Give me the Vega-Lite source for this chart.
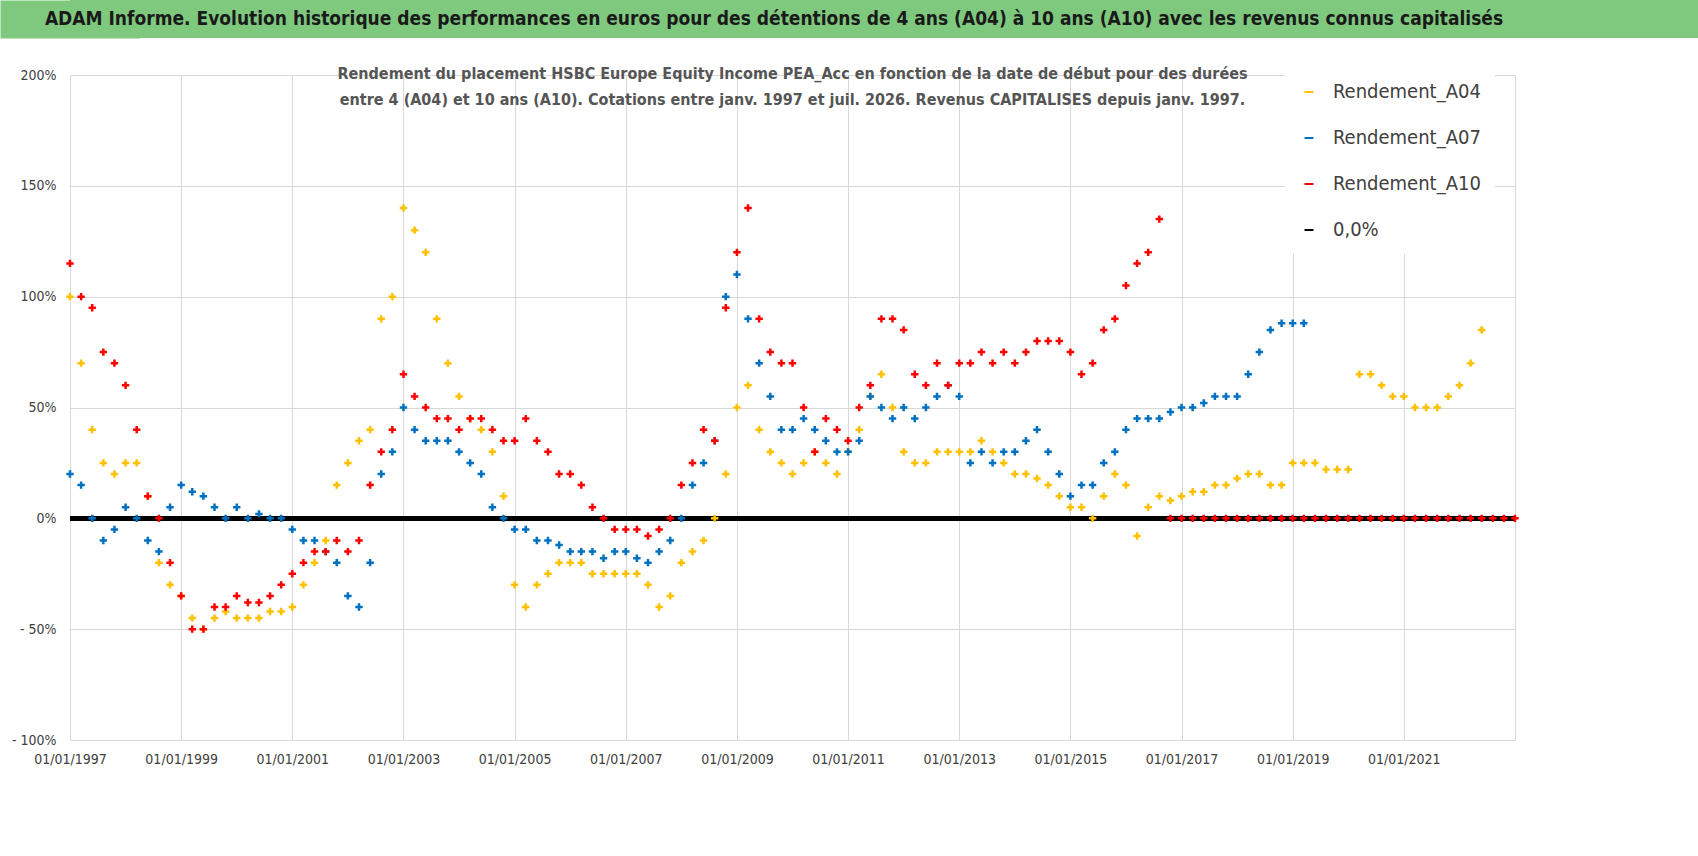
{
  "$schema": "https://vega.github.io/schema/vega-lite/v6.json",
  "padding": 0,
  "spacing": 37,
  "bounds": "flush",
  "background": "white",
  "config": {"view": {"stroke": null}, "font": "DejaVu Sans Condensed, Liberation Sans Narrow, Roboto, sans-serif"},
  "datasets": {
    "perf": [
      {"t":1997.0,"a":100,"b":20,"c":115},{"t":1997.2,"a":70,"b":15,"c":100},{"t":1997.4,"a":40,"b":0,"c":95},{"t":1997.6,"a":25,"b":-10,"c":75},{"t":1997.8,"a":20,"b":-5,"c":70},
      {"t":1998.0,"a":25,"b":5,"c":60},{"t":1998.2,"a":25,"b":0,"c":40},{"t":1998.4,"a":10,"b":-10,"c":10},{"t":1998.6,"a":-20,"b":-15,"c":0},{"t":1998.8,"a":-30,"b":5,"c":-20},
      {"t":1999.0,"a":-35,"b":15,"c":-35},{"t":1999.2,"a":-45,"b":12,"c":-50},{"t":1999.4,"a":-50,"b":10,"c":-50},{"t":1999.6,"a":-45,"b":5,"c":-40},{"t":1999.8,"a":-42,"b":0,"c":-40},
      {"t":2000.0,"a":-45,"b":5,"c":-35},{"t":2000.2,"a":-45,"b":0,"c":-38},{"t":2000.4,"a":-45,"b":2,"c":-38},{"t":2000.6,"a":-42,"b":0,"c":-35},{"t":2000.8,"a":-42,"b":0,"c":-30},
      {"t":2001.0,"a":-40,"b":-5,"c":-25},{"t":2001.2,"a":-30,"b":-10,"c":-20},{"t":2001.4,"a":-20,"b":-10,"c":-15},{"t":2001.6,"a":-10,"b":-15,"c":-15},{"t":2001.8,"a":15,"b":-20,"c":-10},
      {"t":2002.0,"a":25,"b":-35,"c":-15},{"t":2002.2,"a":35,"b":-40,"c":-10},{"t":2002.4,"a":40,"b":-20,"c":15},{"t":2002.6,"a":90,"b":20,"c":30},{"t":2002.8,"a":100,"b":30,"c":40},
      {"t":2003.0,"a":140,"b":50,"c":65},{"t":2003.2,"a":130,"b":40,"c":55},{"t":2003.4,"a":120,"b":35,"c":50},{"t":2003.6,"a":90,"b":35,"c":45},{"t":2003.8,"a":70,"b":35,"c":45},
      {"t":2004.0,"a":55,"b":30,"c":40},{"t":2004.2,"a":45,"b":25,"c":45},{"t":2004.4,"a":40,"b":20,"c":45},{"t":2004.6,"a":30,"b":5,"c":40},{"t":2004.8,"a":10,"b":0,"c":35},
      {"t":2005.0,"a":-30,"b":-5,"c":35},{"t":2005.2,"a":-40,"b":-5,"c":45},{"t":2005.4,"a":-30,"b":-10,"c":35},{"t":2005.6,"a":-25,"b":-10,"c":30},{"t":2005.8,"a":-20,"b":-12,"c":20},
      {"t":2006.0,"a":-20,"b":-15,"c":20},{"t":2006.2,"a":-20,"b":-15,"c":15},{"t":2006.4,"a":-25,"b":-15,"c":5},{"t":2006.6,"a":-25,"b":-18,"c":0},{"t":2006.8,"a":-25,"b":-15,"c":-5},
      {"t":2007.0,"a":-25,"b":-15,"c":-5},{"t":2007.2,"a":-25,"b":-18,"c":-5},{"t":2007.4,"a":-30,"b":-20,"c":-8},{"t":2007.6,"a":-40,"b":-15,"c":-5},{"t":2007.8,"a":-35,"b":-10,"c":0},
      {"t":2008.0,"a":-20,"b":0,"c":15},{"t":2008.2,"a":-15,"b":15,"c":25},{"t":2008.4,"a":-10,"b":25,"c":40},{"t":2008.6,"a":0,"b":35,"c":35},{"t":2008.8,"a":20,"b":100,"c":95},
      {"t":2009.0,"a":50,"b":110,"c":120},{"t":2009.2,"a":60,"b":90,"c":140},{"t":2009.4,"a":40,"b":70,"c":90},{"t":2009.6,"a":30,"b":55,"c":75},{"t":2009.8,"a":25,"b":40,"c":70},
      {"t":2010.0,"a":20,"b":40,"c":70},{"t":2010.2,"a":25,"b":45,"c":50},{"t":2010.4,"a":30,"b":40,"c":30},{"t":2010.6,"a":25,"b":35,"c":45},{"t":2010.8,"a":20,"b":30,"c":40},
      {"t":2011.0,"a":30,"b":30,"c":35},{"t":2011.2,"a":40,"b":35,"c":50},{"t":2011.4,"a":55,"b":55,"c":60},{"t":2011.6,"a":65,"b":50,"c":90},{"t":2011.8,"a":50,"b":45,"c":90},
      {"t":2012.0,"a":30,"b":50,"c":85},{"t":2012.2,"a":25,"b":45,"c":65},{"t":2012.4,"a":25,"b":50,"c":60},{"t":2012.6,"a":30,"b":55,"c":70},{"t":2012.8,"a":30,"b":60,"c":60},
      {"t":2013.0,"a":30,"b":55,"c":70},{"t":2013.2,"a":30,"b":25,"c":70},{"t":2013.4,"a":35,"b":30,"c":75},{"t":2013.6,"a":30,"b":25,"c":70},{"t":2013.8,"a":25,"b":30,"c":75},
      {"t":2014.0,"a":20,"b":30,"c":70},{"t":2014.2,"a":20,"b":35,"c":75},{"t":2014.4,"a":18,"b":40,"c":80},{"t":2014.6,"a":15,"b":30,"c":80},{"t":2014.8,"a":10,"b":20,"c":80},
      {"t":2015.0,"a":5,"b":10,"c":75},{"t":2015.2,"a":5,"b":15,"c":65},{"t":2015.4,"a":0,"b":15,"c":70},{"t":2015.6,"a":10,"b":25,"c":85},{"t":2015.8,"a":20,"b":30,"c":90},
      {"t":2016.0,"a":15,"b":40,"c":105},{"t":2016.2,"a":-8,"b":45,"c":115},{"t":2016.4,"a":5,"b":45,"c":120},{"t":2016.6,"a":10,"b":45,"c":135},{"t":2016.8,"a":8,"b":48,"c":0},
      {"t":2017.0,"a":10,"b":50,"c":0},{"t":2017.2,"a":12,"b":50,"c":0},{"t":2017.4,"a":12,"b":52,"c":0},{"t":2017.6,"a":15,"b":55,"c":0},{"t":2017.8,"a":15,"b":55,"c":0},
      {"t":2018.0,"a":18,"b":55,"c":0},{"t":2018.2,"a":20,"b":65,"c":0},{"t":2018.4,"a":20,"b":75,"c":0},{"t":2018.6,"a":15,"b":85,"c":0},{"t":2018.8,"a":15,"b":88,"c":0},
      {"t":2019.0,"a":25,"b":88,"c":0},{"t":2019.2,"a":25,"b":88,"c":0},{"t":2019.4,"a":25,"b":null,"c":0},{"t":2019.6,"a":22,"b":null,"c":0},{"t":2019.8,"a":22,"b":null,"c":0},
      {"t":2020.0,"a":22,"b":null,"c":0},{"t":2020.2,"a":65,"b":null,"c":0},{"t":2020.4,"a":65,"b":null,"c":0},{"t":2020.6,"a":60,"b":null,"c":0},{"t":2020.8,"a":55,"b":null,"c":0},
      {"t":2021.0,"a":55,"b":null,"c":0},{"t":2021.2,"a":50,"b":null,"c":0},{"t":2021.4,"a":50,"b":null,"c":0},{"t":2021.6,"a":50,"b":null,"c":0},{"t":2021.8,"a":55,"b":null,"c":0},
      {"t":2022.0,"a":60,"b":null,"c":0},{"t":2022.2,"a":70,"b":null,"c":0},{"t":2022.4,"a":85,"b":null,"c":0},{"t":2022.6,"a":null,"b":null,"c":0},{"t":2022.8,"a":null,"b":null,"c":0},
      {"t":2023.0,"a":null,"b":null,"c":0}
    ]
  },
  "vconcat": [
    {
      "width": 1628,
      "height": 38,
      "view": {"fill": "#7fc97f", "stroke": null},
      "data": {"values": [{"label": "ADAM Informe. Evolution historique des performances en euros pour des détentions de 4 ans (A04) à 10 ans (A10) avec les revenus connus capitalisés"}]},
      "mark": {"type": "text", "fontSize": 19, "fontWeight": "bold", "color": "#1a1a1a", "dx": -110},
      "encoding": {
        "text": {"field": "label"},
        "y": {"datum": 0, "type": "quantitative", "scale": {"domain": [-1, 1]},
          "axis": {"title": null, "labels": false, "ticks": false, "grid": false, "domainColor": "#7fc97f", "domainWidth": 140, "domainCap": "butt", "minExtent": 70, "maxExtent": 70}}
      }
    },
    {
      "width": 1445,
      "height": 665,
      "title": {
        "text": ["Rendement du placement HSBC Europe Equity Income PEA_Acc en fonction de la date de début pour des durées", "entre 4 (A04) et 10 ans (A10).  Cotations entre janv. 1997 et juil. 2026. Revenus CAPITALISES depuis janv. 1997."],
        "fontSize": 16, "fontWeight": "bold", "color": "#555555", "offset": -40, "lineHeight": 26
      },
      "data": {"name": "perf"},
      "layer": [
        {
          "mark": {"type": "rule", "strokeWidth": 4},
          "encoding": {"y": {"datum": 0}, "color": {"datum": "0,0%"}}
        },
        {
          "transform": [
            {"fold": ["a", "b", "c"], "as": ["k", "v"]},
            {"filter": "isValid(datum.v)"},
            {"calculate": "datum.k == 'a' ? 'Rendement_A04' : datum.k == 'b' ? 'Rendement_A07' : 'Rendement_A10'", "as": "serie"}
          ],
          "mark": {"type": "point", "shape": "M-1,0H1M0,-1V1", "filled": false, "strokeWidth": 2.5, "size": 55, "opacity": 1},
          "encoding": {
            "x": {"field": "t", "type": "quantitative", "scale": {"domain": [1997, 2023], "nice": false},
              "axis": {"values": [1997,1999,2001,2003,2005,2007,2009,2011,2013,2015,2017,2019,2021,2023], "labelExpr": "datum.value < 2023 ? '01/01/' + datum.value : ''", "labelFlush": false, "title": null, "grid": true, "gridColor": "#d9d9d9", "domain": false, "ticks": false, "labelFontSize": 14, "labelColor": "#404040", "labelPadding": 12}},
            "y": {"field": "v", "type": "quantitative", "scale": {"domain": [-100, 200], "nice": false},
              "axis": {"values": [-100,-50,0,50,100,150,200], "labelExpr": "datum.value < 0 ? '- ' + abs(datum.value) + '%' : datum.value + '%'", "title": null, "grid": true, "gridColor": "#d9d9d9", "domain": false, "ticks": false, "labelFontSize": 14, "labelColor": "#404040", "labelPadding": 14, "minExtent": 70, "maxExtent": 70}},
            "color": {"field": "serie", "type": "nominal",
              "scale": {"domain": ["Rendement_A04", "Rendement_A07", "Rendement_A10", "0,0%"], "range": ["#ffc000", "#0070c0", "#ff0000", "#000000"]},
              "legend": {"title": null, "orient": "none", "legendX": 1215, "legendY": 68, "fillColor": "white", "padding": 14, "rowPadding": 26, "labelFontSize": 20, "labelColor": "#404040", "labelOffset": 14, "symbolSize": 80, "symbolStrokeWidth": 2,
                "encode": {"symbols": {"update": {"shape": {"signal": "datum.index == 3 ? 'stroke' : 'M-1,0H1M0,-1V1'"}, "strokeWidth": {"signal": "datum.index == 3 ? 4 : 1.5"}, "size": {"signal": "datum.index == 3 ? 900 : 60"}}}}}
            }
          }
        }
      ]
    }
  ]
}
